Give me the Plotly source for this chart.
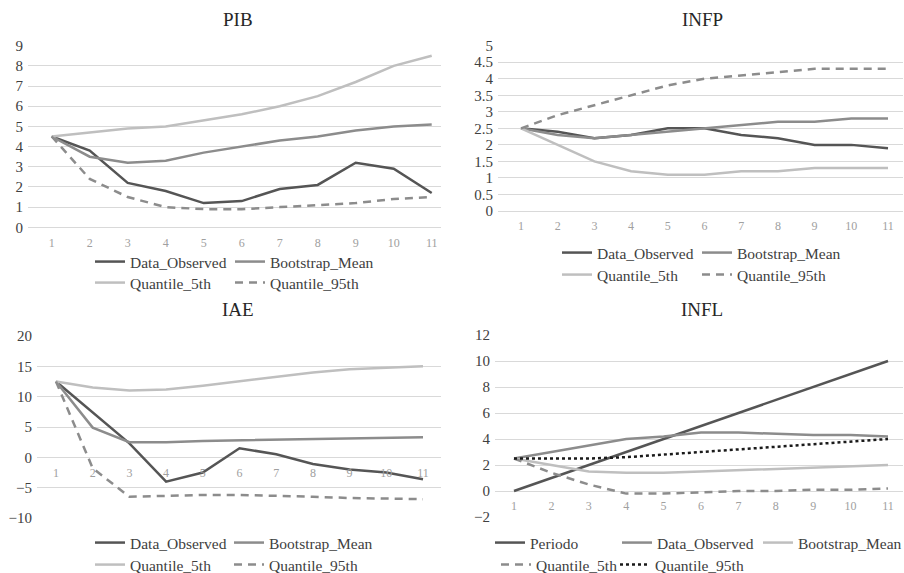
import plotly.graph_objects as go

# Periods on the horizontal axis
periods = [1, 2, 3, 4, 5, 6, 7, 8, 9, 10, 11]

# PIB
pib_observed = [4.5, 3.8, 2.2, 1.8, 1.2, 1.3, 1.9, 2.1, 3.2, 2.9, 1.7]
pib_mean = [4.5, 3.5, 3.2, 3.3, 3.7, 4.0, 4.3, 4.5, 4.8, 5.0, 5.1]
pib_q5 = [4.5, 4.7, 4.9, 5.0, 5.3, 5.6, 6.0, 6.5, 7.2, 8.0, 8.5]
pib_q95 = [4.5, 2.4, 1.5, 1.0, 0.9, 0.9, 1.0, 1.1, 1.2, 1.4, 1.5]

# INFP
infp_observed = [2.5, 2.4, 2.2, 2.3, 2.5, 2.5, 2.3, 2.2, 2.0, 2.0, 1.9]
infp_mean = [2.5, 2.3, 2.2, 2.3, 2.4, 2.5, 2.6, 2.7, 2.7, 2.8, 2.8]
infp_q5 = [2.5, 2.0, 1.5, 1.2, 1.1, 1.1, 1.2, 1.2, 1.3, 1.3, 1.3]
infp_q95 = [2.5, 2.9, 3.2, 3.5, 3.8, 4.0, 4.1, 4.2, 4.3, 4.3, 4.3]

# IAE
iae_observed = [12.5, 7.4, 2.3, -4.0, -2.5, 1.5, 0.5, -1.1, -2.0, -2.5, -3.6]
iae_mean = [12.5, 4.9, 2.5, 2.5, 2.7, 2.8, 2.9, 3.0, 3.1, 3.2, 3.3]
iae_q5 = [12.5, 11.5, 11.0, 11.2, 11.8, 12.5, 13.2, 14.0, 14.5, 14.8, 15.0]
iae_q95 = [12.5, -1.8, -6.5, -6.3, -6.2, -6.2, -6.3, -6.5, -6.7, -6.8, -6.9]

# INFL
infl_periodo = [0, 1, 2, 3, 4, 5, 6, 7, 8, 9, 10]
infl_observed = [2.5, 3.0, 3.5, 4.0, 4.2, 4.5, 4.5, 4.4, 4.3, 4.3, 4.2]
infl_mean = [2.5, 2.0, 1.5, 1.4, 1.4, 1.5, 1.6, 1.7, 1.8, 1.9, 2.0]
infl_q5 = [2.5, 1.4, 0.5, -0.2, -0.2, -0.1, 0.0, 0.0, 0.1, 0.1, 0.2]
infl_q95 = [2.5, 2.5, 2.5, 2.6, 2.8, 3.0, 3.2, 3.4, 3.6, 3.8, 4.0]

W, H = 904, 573
FONT = "Liberation Serif"
DARK = "#555555"
MID = "#8c8c8c"
LIGHT = "#bfbfbf"
GRID = "#d9d9d9"
TEXT = "#404040"
LW = 2.5


def fx(px):
    return px / W


def fy(py):
    return 1 - py / H


# panel geometry: grid left/right, first/last point x, y top/bottom, y range, dtick
panels = [
    dict(title="PIB", gl=28, gr=441, p1=51.7, p11=431.7, top=45.7, bot=227.3,
         yr=(0, 9), dt=1, tx=238, ty=19),
    dict(title="INFP", gl=498, gr=903, p1=521, p11=888, top=45.7, bot=211,
         yr=(0, 5), dt=0.5, tx=702, ty=19),
    dict(title="IAE", gl=37, gr=441, p1=56, p11=423, top=336, bot=518,
         yr=(-10, 20), dt=5, tx=238, ty=309),
    dict(title="INFL", gl=495, gr=903, p1=514, p11=888, top=335, bot=517,
         yr=(-2, 12), dt=2, tx=702, ty=309),
]

series = [
    [("Data_Observed", pib_observed, DARK, "solid"),
     ("Bootstrap_Mean", pib_mean, MID, "solid"),
     ("Quantile_5th", pib_q5, LIGHT, "solid"),
     ("Quantile_95th", pib_q95, MID, "8px,6px")],
    [("Data_Observed", infp_observed, DARK, "solid"),
     ("Bootstrap_Mean", infp_mean, MID, "solid"),
     ("Quantile_5th", infp_q5, LIGHT, "solid"),
     ("Quantile_95th", infp_q95, MID, "8px,6px")],
    [("Data_Observed", iae_observed, DARK, "solid"),
     ("Bootstrap_Mean", iae_mean, MID, "solid"),
     ("Quantile_5th", iae_q5, LIGHT, "solid"),
     ("Quantile_95th", iae_q95, MID, "8px,6px")],
    [("Periodo", infl_periodo, DARK, "solid"),
     ("Data_Observed", infl_observed, MID, "solid"),
     ("Bootstrap_Mean", infl_mean, LIGHT, "solid"),
     ("Quantile_5th", infl_q5, MID, "8px,6px"),
     ("Quantile_95th", infl_q95, "#1a1a1a", "3px,3px")],
]

# legend entry placement per panel: (text start x px, centre y px)
legend_spots = [
    [(130, 262), (270, 262), (130, 283), (270, 283)],
    [(597, 253), (737, 253), (597, 275), (737, 275)],
    [(130, 543), (269, 543), (130, 565), (269, 565)],
    [(530, 543), (657, 543), (798, 543), (536, 565), (655, 565)],
]
TEXT_OFFSET = 40  # plotly draws the line sample first, text starts this far in

layout = dict(
    width=W, height=H, margin=dict(l=0, r=0, t=0, b=0, autoexpand=False),
    paper_bgcolor="white", plot_bgcolor="white",
    font=dict(family=FONT, color=TEXT),
    showlegend=True,
    annotations=[],
)

fig = go.Figure()
leg_n = 0

for pi, p in enumerate(panels):
    n = pi + 1
    xa = "x" if n == 1 else f"x{n}"
    ya = "y" if n == 1 else f"y{n}"
    ppu = (p["p11"] - p["p1"]) / 10.0
    x_lo = 1 - (p["p1"] - p["gl"]) / ppu
    x_hi = 11 + (p["gr"] - p["p11"]) / ppu
    ylo, yhi = p["yr"]
    ydom = [fy(p["bot"]), fy(p["top"])]
    zero_pos = ydom[0] + (0 - ylo) / (yhi - ylo) * (ydom[1] - ydom[0])

    layout["xaxis" if n == 1 else f"xaxis{n}"] = dict(
        domain=[fx(p["gl"]), fx(p["gr"])], range=[x_lo, x_hi],
        anchor="free", position=zero_pos,
        tickvals=periods, ticktext=[str(v) for v in periods],
        showgrid=False, zeroline=False, showline=False,
        ticks="outside", ticklen=4, tickcolor="rgba(0,0,0,0)",
        tickfont=dict(family=FONT, size=12, color="#a0a0a0"),
        fixedrange=True,
    )
    layout["yaxis" if n == 1 else f"yaxis{n}"] = dict(
        domain=ydom, range=[ylo, yhi], anchor=xa, dtick=p["dt"], tick0=0,
        showgrid=True, gridcolor=GRID, gridwidth=1.3,
        zeroline=True, zerolinecolor=GRID, zerolinewidth=1.3,
        showline=False, ticks="outside", ticklen=1, tickcolor="rgba(0,0,0,0)",
        tickfont=dict(family=FONT, size=15, color=TEXT),
        fixedrange=True,
    )
    layout["annotations"].append(dict(
        text=p["title"], x=fx(p["tx"]), y=fy(p["ty"]), xref="paper", yref="paper",
        xanchor="center", yanchor="middle", showarrow=False,
        font=dict(family=FONT, size=19, color="#262626"),
    ))

    for si, (name, vals, color, dash) in enumerate(series[pi]):
        leg_n += 1
        key = "legend" if leg_n == 1 else f"legend{leg_n}"
        tx, ty = legend_spots[pi][si]
        layout[key] = dict(
            orientation="h", x=fx(tx - TEXT_OFFSET), y=fy(ty),
            xanchor="left", yanchor="middle",
            font=dict(family=FONT, size=15.5, color=TEXT),
            bgcolor="rgba(0,0,0,0)", borderwidth=0,
        )
        fig.add_trace(go.Scatter(
            x=periods, y=vals, name=name, mode="lines",
            line=dict(color=color, width=LW, dash=dash),
            xaxis=xa, yaxis=ya, legend=key, cliponaxis=False,
            showlegend=True,
        ))

fig.update_layout(**layout)
fig.write_html("out.html")
